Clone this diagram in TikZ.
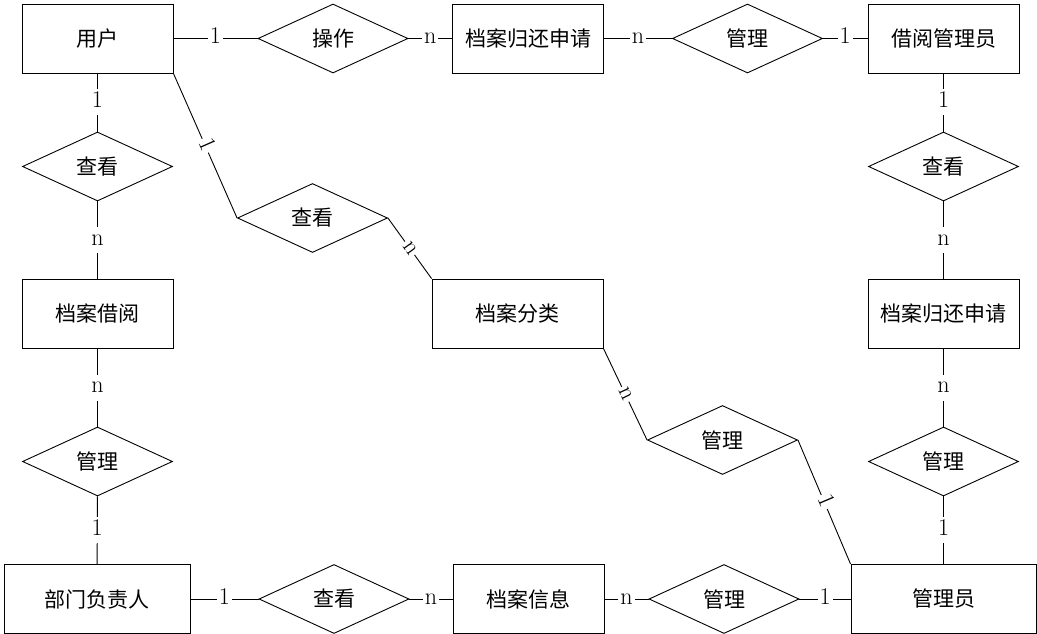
\documentclass[tikz,border=0pt]{standalone}
\usepackage{fontspec}
\newfontfamily\cjk{Noto Sans CJK SC}
\usepackage{tikz}
\tikzstyle{entity}=[rectangle,draw=black,line width=0.9pt,minimum width=151pt,
minimum height=69pt,font=\cjk\fontsize{21}{24}\selectfont]
\tikzstyle{relation}=[diamond,draw=black,line width=0.9pt,minimum width=150pt,
minimum height=69pt,inner sep=0pt,font=\cjk\fontsize{21}{24}\selectfont]
\tikzstyle{card}=[fill=white,inner xsep=2pt,inner ysep=2pt,text height=16pt,
text depth=6pt,font=\fontsize{24}{28}\selectfont]
\usetikzlibrary{positioning,shapes}

\begin{document}
\begin{tikzpicture}[x=1pt,y=-1pt,line width=0.9pt]
            \useasboundingbox (0,0) rectangle (1037,634);

            % entities
            \node[entity] (e1) at (97.5,38.5) {用户};
            \node[entity] (e2) at (528,38.5) {档案归还申请};
            \node[entity] (e3) at (943.5,38.5) {借阅管理员};
            \node[entity] (e4) at (97.5,313.5) {档案借阅};
            \node[entity,minimum width=171pt] (e5) at (517.5,313.5) {档案分类};
            \node[entity] (e6) at (943.5,313.5) {档案归还申请};
            \node[entity,minimum width=186pt] (e7) at (97,599) {部门负责人};
            \node[entity] (e8) at (528.5,599) {档案信息};
            \node[entity,minimum width=185pt] (e9) at (943.5,599) {管理员};

            % relations
            \node[relation] (r1) at (333,38.5) {操作};
            \node[relation] (r2) at (747.5,38.5) {管理};
            \node[relation] (r3) at (97.5,166.5) {查看};
            \node[relation] (r4) at (312.5,218) {查看};
            \node[relation] (r5) at (943.5,166.5) {查看};
            \node[relation] (r6) at (97.5,461.5) {管理};
            \node[relation] (r7) at (722.5,440) {管理};
            \node[relation] (r8) at (943.5,461.5) {管理};
            \node[relation] (r9) at (334,599) {查看};
            \node[relation] (r10) at (724,599) {管理};

            % top row
            \path (e1) edge node[card] {1} (r1);
            \path (r1) edge node[card] {n} (e2);
            \path (e2) edge node[card] {n} (r2);
            \path (r2) edge node[card] {1} (e3);

            % left column
            \path (e1) edge node[card] {1} (r3);
            \path (r3) edge node[card] {n} (e4);
            \path (e4) edge node[card] {n} (r6);
            \path (r6) edge node[card] {1} (e7);

            % right column
            \path (e3) edge node[card] {1} (r5);
            \path (r5) edge node[card] {n} (e6);
            \path (e6) edge node[card] {n} (r8);
            \path (r8) edge node[card] {1} (e9);

            % bottom row
            \path (e7) edge node[card] {1} (r9);
            \path (r9) edge node[card] {n} (e8);
            \path (e8) edge node[card] {n} (r10);
            \path (r10) edge node[card] {1} (e9);

            % middle
            \path (e1.south east) edge node[card,sloped] {1} (r4.west);
            \path (r4.east) edge node[card,sloped] {n} (e5.north west);
            \path (e5.south east) edge node[card,sloped] {n} (r7.west);
            \path (r7.east) edge node[card,sloped] {1} (e9.north west);

        \end{tikzpicture}
\end{document}
